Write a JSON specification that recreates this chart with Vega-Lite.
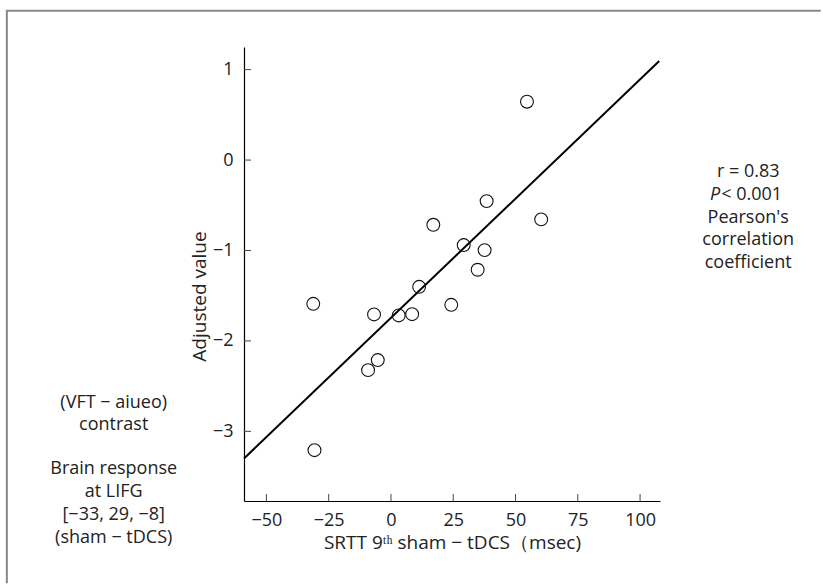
{
  "$schema": "https://vega.github.io/schema/vega-lite/v6.json",
  "autosize": {"type": "none"},
  "width": 416,
  "height": 454,
  "padding": {"left": 244, "top": 47, "right": 163, "bottom": 84},
  "background": "white",
  "config": {
    "view": {"stroke": null},
    "font": "Open Sans",
    "text": {"font": "Open Sans", "fontSize": 18, "color": "#222"}
  },
  "layer": [
    {
      "data": {"values": [{}]},
      "mark": {"type": "rule", "stroke": "#888", "strokeWidth": 2, "clip": false},
      "encoding": {
        "x": {"datum": -154.2, "type": "quantitative", "scale": {"domain": [-59, 108], "nice": false, "zero": false}},
        "y": {"datum": 1.65, "type": "quantitative", "scale": {"domain": [-3.77, 1.25], "nice": false, "zero": false}},
        "y2": {"datum": -4.68}
      }
    },
    {
      "data": {"values": [{}]},
      "mark": {"type": "rule", "stroke": "#888", "strokeWidth": 2, "clip": false},
      "encoding": {
        "x": {"datum": -154.6, "type": "quantitative"},
        "x2": {"datum": 172.5},
        "y": {"datum": 1.65, "type": "quantitative"}
      }
    },
    {
      "data": {"values": [{"x": -50}, {"x": -25}, {"x": 0}, {"x": 25}, {"x": 50}, {"x": 75}, {"x": 100}]},
      "mark": {"type": "rule", "color": "#444", "strokeWidth": 1},
      "encoding": {
        "x": {"field": "x", "type": "quantitative"},
        "y": {"datum": -3.77, "type": "quantitative"},
        "y2": {"datum": -3.693}
      }
    },
    {
      "data": {"values": [{"y": -3}, {"y": -2}, {"y": -1}, {"y": 0}, {"y": 1}]},
      "mark": {"type": "rule", "color": "#444", "strokeWidth": 1},
      "encoding": {
        "y": {"field": "y", "type": "quantitative"},
        "x": {"datum": -59, "type": "quantitative"},
        "x2": {"datum": -56.2}
      }
    },
    {
      "data": {"values": [{"x": -59, "y": -3.30}, {"x": 107.7, "y": 1.095}]},
      "mark": {"type": "line", "color": "black", "strokeWidth": 2},
      "encoding": {
        "x": {"field": "x", "type": "quantitative"},
        "y": {"field": "y", "type": "quantitative"}
      }
    },
    {
      "data": {"values": [
        {"x": 54.6, "y": 0.645},
        {"x": 38.4, "y": -0.454},
        {"x": 17.0, "y": -0.716},
        {"x": 60.3, "y": -0.656},
        {"x": 29.2, "y": -0.940},
        {"x": 37.6, "y": -0.996},
        {"x": 34.8, "y": -1.213},
        {"x": 11.3, "y": -1.402},
        {"x": -31.2, "y": -1.590},
        {"x": 24.2, "y": -1.601},
        {"x": -6.8, "y": -1.707},
        {"x": 3.1, "y": -1.718},
        {"x": 8.5, "y": -1.704},
        {"x": -5.3, "y": -2.212},
        {"x": -9.2, "y": -2.323},
        {"x": -30.7, "y": -3.208}
      ]},
      "mark": {"type": "point", "shape": "circle", "filled": false, "stroke": "#111", "strokeWidth": 1.1, "size": 165, "opacity": 1},
      "encoding": {
        "x": {
          "field": "x", "type": "quantitative",
          "axis": {
            "title": "SRTT 9ᵗʰ sham − tDCS（msec)",
            "values": [-50, -25, 0, 25, 50, 75, 100],
            "format": "d",
            "grid": false, "ticks": false,
            "domainColor": "black", "domainWidth": 1.2,
            "labelPadding": 10, "labelFontSize": 18, "labelColor": "#222", "labelFont": "Open Sans",
            "labelFlush": false,
            "titleFontSize": 19, "titleFontWeight": "normal", "titleColor": "#222", "titleFont": "Open Sans",
            "titlePadding": 4
          }
        },
        "y": {
          "field": "y", "type": "quantitative",
          "axis": {
            "title": "Adjusted value",
            "values": [-3, -2, -1, 0, 1],
            "format": "d",
            "grid": false, "ticks": false,
            "domainColor": "black", "domainWidth": 1.2,
            "labelPadding": 11, "labelFontSize": 18, "labelColor": "#222", "labelFont": "Open Sans",
            "labelFlush": false,
            "titleFontSize": 19, "titleFontWeight": "normal", "titleColor": "#222", "titleFont": "Open Sans",
            "titleX": -45, "titleY": 249, "titleBaseline": "middle", "titleAlign": "center", "titleAngle": 270
          }
        }
      }
    },
    {
      "data": {"values": [{}]},
      "mark": {"type": "text", "text": "r = 0.83", "align": "center", "baseline": "alphabetic", "clip": false},
      "encoding": {"x": {"datum": 143.4, "type": "quantitative"}, "y": {"datum": -0.188, "type": "quantitative"}}
    },
    {
      "data": {"values": [{}]},
      "mark": {"type": "text", "text": "P", "fontStyle": "italic", "align": "right", "baseline": "alphabetic", "clip": false},
      "encoding": {"x": {"datum": 132.2, "type": "quantitative"}, "y": {"datum": -0.4425, "type": "quantitative"}}
    },
    {
      "data": {"values": [{}]},
      "mark": {"type": "text", "text": "< 0.001", "align": "left", "baseline": "alphabetic", "clip": false},
      "encoding": {"x": {"datum": 132.6, "type": "quantitative"}, "y": {"datum": -0.4425, "type": "quantitative"}}
    },
    {
      "data": {"values": [{}]},
      "mark": {"type": "text", "text": ["Pearson's", "correlation", "coefficient"], "lineHeight": 22.5, "align": "center", "baseline": "alphabetic", "clip": false},
      "encoding": {"x": {"datum": 143.4, "type": "quantitative"}, "y": {"datum": -0.691, "type": "quantitative"}}
    },
    {
      "data": {"values": [{}]},
      "mark": {"type": "text", "text": ["(VFT  −  aiueo)", "contrast"], "lineHeight": 22, "align": "center", "baseline": "alphabetic", "clip": false},
      "encoding": {"x": {"datum": -111.3, "type": "quantitative"}, "y": {"datum": -2.747, "type": "quantitative"}}
    },
    {
      "data": {"values": [{}]},
      "mark": {"type": "text", "text": ["Brain response", "at LIFG", "[−33, 29, −8]", "(sham − tDCS)"], "lineHeight": 23.3, "align": "center", "baseline": "alphabetic", "clip": false},
      "encoding": {"x": {"datum": -111.3, "type": "quantitative"}, "y": {"datum": -3.466, "type": "quantitative"}}
    }
  ]
}
